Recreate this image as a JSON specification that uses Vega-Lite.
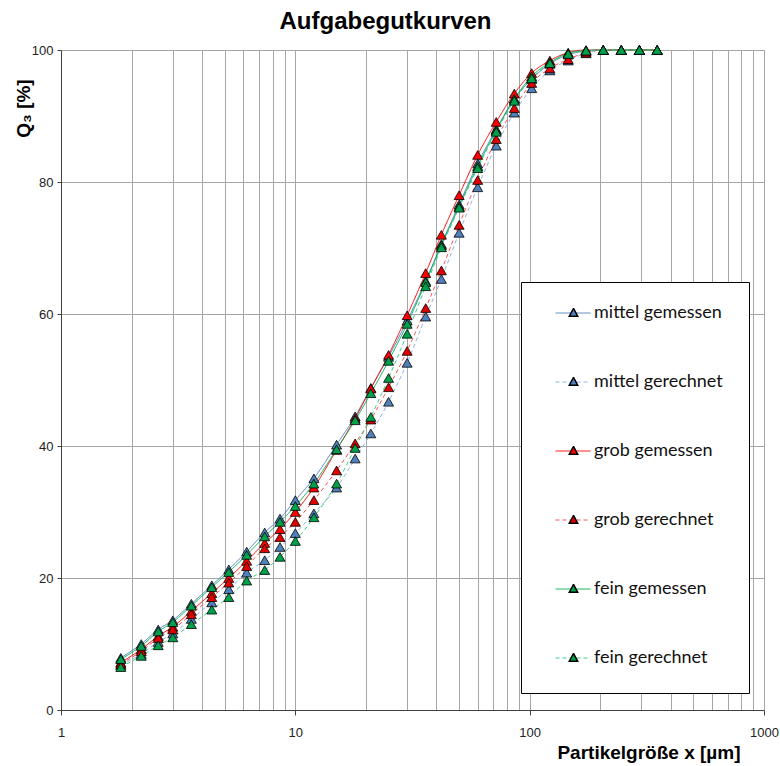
{
  "$schema": "https://vega.github.io/schema/vega-lite/v6.json",
  "width": 703,
  "height": 660,
  "autosize": {"type": "none"},
  "padding": {"left": 61, "top": 50, "right": 16, "bottom": 56},
  "background": "white",
  "config": {"view": {"stroke": null}},
  "title": {
    "text": "Aufgabegutkurven",
    "font": "Liberation Sans",
    "fontSize": 24,
    "fontWeight": "bold",
    "color": "#000",
    "anchor": "middle",
    "dx": -27,
    "baseline": "alphabetic",
    "offset": 20,
    "dy": 29
  },
  "data": {
    "values": [
      {"s":"mittel gemessen","x":1.8,"q":7.9},{"s":"mittel gemessen","x":2.2,"q":10.0},{"s":"mittel gemessen","x":2.6,"q":12.2},{"s":"mittel gemessen","x":3.0,"q":13.6},{"s":"mittel gemessen","x":3.6,"q":16.1},{"s":"mittel gemessen","x":4.4,"q":18.9},{"s":"mittel gemessen","x":5.2,"q":21.3},{"s":"mittel gemessen","x":6.2,"q":24.0},{"s":"mittel gemessen","x":7.4,"q":26.9},{"s":"mittel gemessen","x":8.6,"q":29.0},{"s":"mittel gemessen","x":10,"q":31.8},{"s":"mittel gemessen","x":12,"q":35.1},{"s":"mittel gemessen","x":15,"q":40.2},{"s":"mittel gemessen","x":18,"q":44.5},{"s":"mittel gemessen","x":21,"q":48.8},{"s":"mittel gemessen","x":25,"q":53.5},{"s":"mittel gemessen","x":30,"q":59.0},{"s":"mittel gemessen","x":36,"q":65.0},{"s":"mittel gemessen","x":42,"q":70.6},{"s":"mittel gemessen","x":50,"q":76.6},{"s":"mittel gemessen","x":60,"q":82.8},{"s":"mittel gemessen","x":72,"q":88.0},{"s":"mittel gemessen","x":86,"q":92.6},{"s":"mittel gemessen","x":102,"q":95.6},{"s":"mittel gemessen","x":122,"q":97.9},{"s":"mittel gemessen","x":146,"q":99.3},{"s":"mittel gemessen","x":174,"q":99.8},{"s":"mittel gemessen","x":206,"q":100},{"s":"mittel gemessen","x":246,"q":100},{"s":"mittel gemessen","x":294,"q":100},{"s":"mittel gemessen","x":350,"q":100},
      {"s":"mittel gerechnet","x":1.8,"q":6.8},{"s":"mittel gerechnet","x":2.2,"q":8.5},{"s":"mittel gerechnet","x":2.6,"q":10.3},{"s":"mittel gerechnet","x":3.0,"q":11.6},{"s":"mittel gerechnet","x":3.6,"q":13.8},{"s":"mittel gerechnet","x":4.4,"q":16.3},{"s":"mittel gerechnet","x":5.2,"q":18.3},{"s":"mittel gerechnet","x":6.2,"q":20.8},{"s":"mittel gerechnet","x":7.4,"q":22.7},{"s":"mittel gerechnet","x":8.6,"q":24.7},{"s":"mittel gerechnet","x":10,"q":26.8},{"s":"mittel gerechnet","x":12,"q":29.8},{"s":"mittel gerechnet","x":15,"q":33.7},{"s":"mittel gerechnet","x":18,"q":38.1},{"s":"mittel gerechnet","x":21,"q":41.9},{"s":"mittel gerechnet","x":25,"q":46.7},{"s":"mittel gerechnet","x":30,"q":52.6},{"s":"mittel gerechnet","x":36,"q":59.6},{"s":"mittel gerechnet","x":42,"q":65.3},{"s":"mittel gerechnet","x":50,"q":72.3},{"s":"mittel gerechnet","x":60,"q":79.2},{"s":"mittel gerechnet","x":72,"q":85.5},{"s":"mittel gerechnet","x":86,"q":90.5},{"s":"mittel gerechnet","x":102,"q":94.2},{"s":"mittel gerechnet","x":122,"q":96.9},{"s":"mittel gerechnet","x":146,"q":98.4},{"s":"mittel gerechnet","x":174,"q":99.5},{"s":"mittel gerechnet","x":206,"q":100},{"s":"mittel gerechnet","x":246,"q":100},{"s":"mittel gerechnet","x":294,"q":100},{"s":"mittel gerechnet","x":350,"q":100},
      {"s":"grob gemessen","x":1.8,"q":7.2},{"s":"grob gemessen","x":2.2,"q":9.2},{"s":"grob gemessen","x":2.6,"q":11.2},{"s":"grob gemessen","x":3.0,"q":12.6},{"s":"grob gemessen","x":3.6,"q":15.0},{"s":"grob gemessen","x":4.4,"q":17.7},{"s":"grob gemessen","x":5.2,"q":20.0},{"s":"grob gemessen","x":6.2,"q":22.6},{"s":"grob gemessen","x":7.4,"q":25.3},{"s":"grob gemessen","x":8.6,"q":27.4},{"s":"grob gemessen","x":10,"q":30.0},{"s":"grob gemessen","x":12,"q":33.7},{"s":"grob gemessen","x":15,"q":39.4},{"s":"grob gemessen","x":18,"q":44.2},{"s":"grob gemessen","x":21,"q":48.7},{"s":"grob gemessen","x":25,"q":53.8},{"s":"grob gemessen","x":30,"q":59.8},{"s":"grob gemessen","x":36,"q":66.2},{"s":"grob gemessen","x":42,"q":72.0},{"s":"grob gemessen","x":50,"q":78.0},{"s":"grob gemessen","x":60,"q":84.1},{"s":"grob gemessen","x":72,"q":89.1},{"s":"grob gemessen","x":86,"q":93.4},{"s":"grob gemessen","x":102,"q":96.5},{"s":"grob gemessen","x":122,"q":98.4},{"s":"grob gemessen","x":146,"q":99.6},{"s":"grob gemessen","x":174,"q":100},{"s":"grob gemessen","x":206,"q":100},{"s":"grob gemessen","x":246,"q":100},{"s":"grob gemessen","x":294,"q":100},{"s":"grob gemessen","x":350,"q":100},
      {"s":"grob gerechnet","x":1.8,"q":7.0},{"s":"grob gerechnet","x":2.2,"q":8.9},{"s":"grob gerechnet","x":2.6,"q":10.9},{"s":"grob gerechnet","x":3.0,"q":12.2},{"s":"grob gerechnet","x":3.6,"q":14.5},{"s":"grob gerechnet","x":4.4,"q":17.1},{"s":"grob gerechnet","x":5.2,"q":19.3},{"s":"grob gerechnet","x":6.2,"q":21.8},{"s":"grob gerechnet","x":7.4,"q":24.5},{"s":"grob gerechnet","x":8.6,"q":26.2},{"s":"grob gerechnet","x":10,"q":28.5},{"s":"grob gerechnet","x":12,"q":31.8},{"s":"grob gerechnet","x":15,"q":36.3},{"s":"grob gerechnet","x":18,"q":40.4},{"s":"grob gerechnet","x":21,"q":44.0},{"s":"grob gerechnet","x":25,"q":48.9},{"s":"grob gerechnet","x":30,"q":54.4},{"s":"grob gerechnet","x":36,"q":60.9},{"s":"grob gerechnet","x":42,"q":66.6},{"s":"grob gerechnet","x":50,"q":73.5},{"s":"grob gerechnet","x":60,"q":80.3},{"s":"grob gerechnet","x":72,"q":86.5},{"s":"grob gerechnet","x":86,"q":91.2},{"s":"grob gerechnet","x":102,"q":95.0},{"s":"grob gerechnet","x":122,"q":97.2},{"s":"grob gerechnet","x":146,"q":98.6},{"s":"grob gerechnet","x":174,"q":99.6},{"s":"grob gerechnet","x":206,"q":100},{"s":"grob gerechnet","x":246,"q":100},{"s":"grob gerechnet","x":294,"q":100},{"s":"grob gerechnet","x":350,"q":100},
      {"s":"fein gemessen","x":1.8,"q":7.7},{"s":"fein gemessen","x":2.2,"q":9.7},{"s":"fein gemessen","x":2.6,"q":11.9},{"s":"fein gemessen","x":3.0,"q":13.3},{"s":"fein gemessen","x":3.6,"q":15.8},{"s":"fein gemessen","x":4.4,"q":18.6},{"s":"fein gemessen","x":5.2,"q":20.9},{"s":"fein gemessen","x":6.2,"q":23.5},{"s":"fein gemessen","x":7.4,"q":26.3},{"s":"fein gemessen","x":8.6,"q":28.5},{"s":"fein gemessen","x":10,"q":30.9},{"s":"fein gemessen","x":12,"q":34.3},{"s":"fein gemessen","x":15,"q":39.5},{"s":"fein gemessen","x":18,"q":43.9},{"s":"fein gemessen","x":21,"q":48.0},{"s":"fein gemessen","x":25,"q":52.9},{"s":"fein gemessen","x":30,"q":58.5},{"s":"fein gemessen","x":36,"q":64.8},{"s":"fein gemessen","x":42,"q":70.4},{"s":"fein gemessen","x":50,"q":76.3},{"s":"fein gemessen","x":60,"q":82.4},{"s":"fein gemessen","x":72,"q":87.8},{"s":"fein gemessen","x":86,"q":92.6},{"s":"fein gemessen","x":102,"q":96.0},{"s":"fein gemessen","x":122,"q":98.1},{"s":"fein gemessen","x":146,"q":99.5},{"s":"fein gemessen","x":174,"q":99.9},{"s":"fein gemessen","x":206,"q":100},{"s":"fein gemessen","x":246,"q":100},{"s":"fein gemessen","x":294,"q":100},{"s":"fein gemessen","x":350,"q":100},
      {"s":"fein gerechnet","x":1.8,"q":6.5},{"s":"fein gerechnet","x":2.2,"q":8.2},{"s":"fein gerechnet","x":2.6,"q":9.8},{"s":"fein gerechnet","x":3.0,"q":11.0},{"s":"fein gerechnet","x":3.6,"q":13.0},{"s":"fein gerechnet","x":4.4,"q":15.2},{"s":"fein gerechnet","x":5.2,"q":17.1},{"s":"fein gerechnet","x":6.2,"q":19.6},{"s":"fein gerechnet","x":7.4,"q":21.2},{"s":"fein gerechnet","x":8.6,"q":23.2},{"s":"fein gerechnet","x":10,"q":25.6},{"s":"fein gerechnet","x":12,"q":29.2},{"s":"fein gerechnet","x":15,"q":34.3},{"s":"fein gerechnet","x":18,"q":39.7},{"s":"fein gerechnet","x":21,"q":44.4},{"s":"fein gerechnet","x":25,"q":50.3},{"s":"fein gerechnet","x":30,"q":57.0},{"s":"fein gerechnet","x":36,"q":64.2},{"s":"fein gerechnet","x":42,"q":70.1},{"s":"fein gerechnet","x":50,"q":76.1},{"s":"fein gerechnet","x":60,"q":82.1},{"s":"fein gerechnet","x":72,"q":87.6},{"s":"fein gerechnet","x":86,"q":92.3},{"s":"fein gerechnet","x":102,"q":95.7},{"s":"fein gerechnet","x":122,"q":98.0},{"s":"fein gerechnet","x":146,"q":99.4},{"s":"fein gerechnet","x":174,"q":99.9},{"s":"fein gerechnet","x":206,"q":100},{"s":"fein gerechnet","x":246,"q":100},{"s":"fein gerechnet","x":294,"q":100},{"s":"fein gerechnet","x":350,"q":100}
    ]
  },
  "encoding": {
    "x": {
      "field": "x",
      "type": "quantitative",
      "scale": {"type": "log", "domain": [1, 1000], "nice": false},
      "axis": {
        "values": [1,2,3,4,5,6,7,8,9,10,20,30,40,50,60,70,80,90,100,200,300,400,500,600,700,800,900,1000],
        "grid": true,
        "gridColor": "#a6a6a6",
        "gridWidth": 1,
        "domainColor": "#404040",
        "tickColor": "#404040",
        "tickSize": 5,
        "tickOpacity": {"condition": {"test": "abs(log(datum.value)/LN10 - round(log(datum.value)/LN10)) < 0.001", "value": 1}, "value": 0},
        "labelExpr": "abs(log(datum.value)/LN10 - round(log(datum.value)/LN10)) < 0.001 ? '' + datum.value : ''",
        "labelFlush": false,
        "labelOverlap": false,
        "labelPadding": 11,
        "labelFont": "Liberation Sans",
        "labelFontSize": 13,
        "labelColor": "#222",
        "title": "Partikelgröße x [µm]",
        "titleFont": "Liberation Sans",
        "titleFontSize": 19,
        "titleFontWeight": "bold",
        "titleColor": "#000",
        "titleX": 679,
        "titleY": 42,
        "titleAlign": "right",
        "titleBaseline": "middle"
      }
    },
    "y": {
      "field": "q",
      "type": "quantitative",
      "scale": {"domain": [0, 100], "nice": false},
      "axis": {
        "values": [0, 20, 40, 60, 80, 100],
        "grid": true,
        "gridColor": "#a6a6a6",
        "gridWidth": 1,
        "domainColor": "#404040",
        "tickColor": "#404040",
        "tickSize": 4,
        "labelPadding": 4,
        "labelFont": "Liberation Sans",
        "labelFontSize": 13,
        "labelColor": "#222",
        "title": "Q₃ [%]",
        "titleFont": "Liberation Sans",
        "titleFontSize": 19,
        "titleFontWeight": "bold",
        "titleColor": "#000",
        "titleX": -38,
        "titleY": 58,
        "titleAlign": "center",
        "titleBaseline": "middle"
      }
    }
  },
  "layer": [
    {
      "mark": {"type": "line", "interpolate": "monotone", "strokeWidth": 1},
      "encoding": {
        "color": {
          "field": "s",
          "type": "nominal",
          "scale": {
            "domain": ["mittel gemessen","mittel gerechnet","grob gemessen","grob gerechnet","fein gemessen","fein gerechnet"],
            "range": ["#4F81BD","#8DB3E2","#FF0000","#FF5050","#00B050","#40CC80"]
          },
          "legend": {
            "orient": "none", "legendX": 460, "legendY": 232, "title": null,
            "padding": 26, "clipHeight": 10, "rowPadding": 51,
            "symbolType": "stroke", "symbolSize": 1225, "symbolStrokeWidth": 1, "symbolOffset": 8,
            "labelOffset": 3, "labelFont": "Lato", "labelFontSize": 18, "labelColor": "#111", "labelBaseline": "middle",
            "strokeColor": "#000", "fillColor": "#fff", "zindex": 1
          }
        },
        "strokeDash": {
          "field": "s",
          "type": "nominal",
          "scale": {
            "domain": ["mittel gemessen","mittel gerechnet","grob gemessen","grob gerechnet","fein gemessen","fein gerechnet"],
            "range": [[1,0],[4,3],[1,0],[4,3],[1,0],[4,3]]
          },
          "legend": {
            "orient": "none", "legendX": 460, "legendY": 232, "title": null,
            "padding": 26, "clipHeight": 10, "rowPadding": 51,
            "symbolType": "stroke", "symbolSize": 1225, "symbolStrokeWidth": 1, "symbolOffset": 8,
            "labelOffset": 3, "labelFont": "Lato", "labelFontSize": 18, "labelColor": "#111", "labelBaseline": "middle",
            "strokeColor": "#000", "fillColor": "#fff", "zindex": 1
          }
        }
      }
    },
    {
      "mark": {"type": "point", "shape": "triangle-up", "filled": true, "size": 100, "stroke": "#000", "strokeWidth": 0.8, "opacity": 1},
      "encoding": {
        "fill": {
          "field": "s",
          "type": "nominal",
          "sort": ["mittel gemessen","mittel gerechnet","grob gemessen","grob gerechnet","fein gemessen","fein gerechnet"],
          "scale": {
            "range": ["#4F81BD","#4F81BD","#FF0000","#E00000","#00A04A","#00A04A"]
          },
          "legend": {
            "orient": "none", "legendX": 460, "legendY": 232, "title": null,
            "padding": 26, "clipHeight": 10, "rowPadding": 51,
            "symbolType": "M0,-0.26L0.24,0.18L-0.24,0.18Z", "symbolSize": 1225, "symbolOffset": 8,
            "labelOffset": 3, "labelFont": "Lato", "labelFontSize": 18, "labelOpacity": 0, "labelBaseline": "middle",
            "zindex": 2,
            "encode": {"symbols": {"update": {"stroke": {"value": "#000"}, "strokeWidth": {"value": 0.8}, "opacity": {"value": 1}}}}
          }
        }
      }
    }
  ]
}
